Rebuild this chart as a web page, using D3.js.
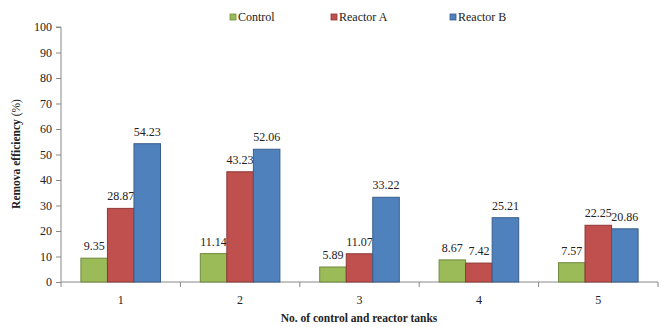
<!DOCTYPE html>
<html><head><meta charset="utf-8">
<script src="https://cdn.jsdelivr.net/npm/d3@7/dist/d3.min.js"></script>
<style>body{margin:0;background:#fff}svg{display:block}</style>
</head><body><svg id="c" width="662" height="327"></svg>
<script>
const categories = ["1","2","3","4","5"];
const seriesNames = ["Control","Reactor A","Reactor B"];
const control = [9.35, 11.14, 5.89, 8.67, 7.57];
const reactorA = [28.87, 43.23, 11.07, 7.42, 22.25];
const reactorB = [54.23, 52.06, 33.22, 25.21, 20.86];
const yTicks = [0,10,20,30,40,50,60,70,80,90,100];
const colors = ["#9BBB59","#C0504D","#4F81BD"];
const strokes = ["#71893F","#8C3836","#385D8A"];

const FONT = "'Liberation Serif'";
const series = [control, reactorA, reactorB];
const svg = d3.select("#c");
const L = 61, R = 658, T = 27, B = 282;
const x = d3.scaleBand().domain(categories).range([L, R]).paddingInner(0).paddingOuter(0);
const x1 = d3.scaleBand().domain(seriesNames).range([0, x.bandwidth()]).paddingInner(0).paddingOuter(0.75);
const y = d3.scaleLinear().domain([0,100]).range([B, T]);

// y axis
const ya = svg.append("g").attr("transform",`translate(${L},0)`)
  .call(d3.axisLeft(y).tickValues(yTicks).tickSize(5).tickPadding(4));
ya.selectAll("path,line").attr("stroke","#888");
ya.select(".domain").attr("d",`M-5,${T}H0V${B}`);
ya.selectAll("text").attr("font-size",12).attr("fill","#222");

// x axis
const xa = svg.append("g").attr("transform",`translate(0,${B})`)
  .call(d3.axisBottom(x).tickSize(0).tickPadding(13));
xa.select(".domain").attr("stroke","#888").attr("d",`M${L},0H${R}`);
xa.selectAll("text").attr("font-size",12).attr("fill","#222");
const bounds = categories.map((c,i)=>x(c)).concat([R]);
svg.append("g").selectAll("line").data(bounds).join("line")
  .attr("x1",d=>d).attr("x2",d=>d).attr("y1",B).attr("y2",B+5).attr("stroke","#888");

// bars
seriesNames.forEach((s,si)=>{
  const g = svg.append("g");
  g.selectAll("rect").data(series[si]).join("rect")
    .attr("x",(d,i)=>x(categories[i])+x1(s))
    .attr("y",d=>y(d)).attr("width",x1.bandwidth()).attr("height",d=>B-y(d))
    .attr("fill",colors[si]).attr("stroke",strokes[si]).attr("stroke-width",1);
  g.selectAll("text").data(series[si]).join("text")
    .attr("x",(d,i)=>x(categories[i])+x1(s)+x1.bandwidth()/2)
    .attr("y",d=>y(d)-8).attr("text-anchor","middle")
    .attr("font-size",12).attr("fill","#222").text(d=>d.toFixed(2));
});

// legend
const legX = [230, 331, 450];
seriesNames.forEach((s,si)=>{
  svg.append("rect").attr("x",legX[si]).attr("y",14).attr("width",6).attr("height",6)
    .attr("fill",colors[si]).attr("stroke",strokes[si]).attr("stroke-width",0.8);
  svg.append("text").attr("x",legX[si]+8).attr("y",21).attr("font-size",12).attr("fill","#222").text(s);
});

// axis titles
svg.append("text").attr("transform","translate(20,154) rotate(-90)").attr("text-anchor","middle")
  .attr("font-size",11.5).attr("fill","#222")
  .call(t=>{t.append("tspan").attr("font-weight","bold").text("Remova efficiency ");t.append("tspan").text("(%)");});
svg.append("text").attr("x",359).attr("y",322).attr("text-anchor","middle").attr("font-size",11.5)
  .attr("font-weight","bold").attr("fill","#222").text("No. of control and reactor tanks");

svg.selectAll("text").style("font-family", FONT);
svg.selectAll("g").attr("font-family", null);
</script></body></html>
